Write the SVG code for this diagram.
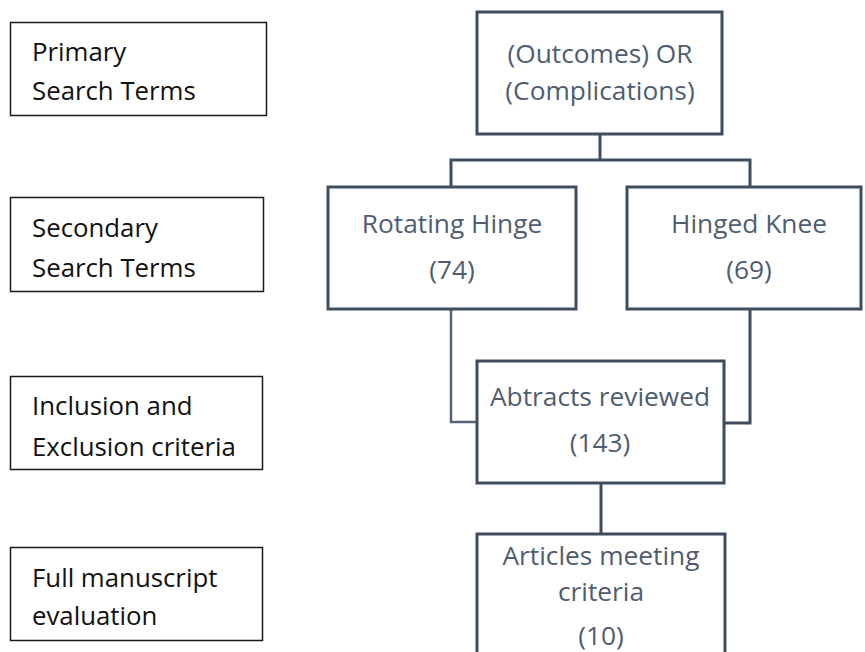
<svg xmlns="http://www.w3.org/2000/svg" width="865" height="652" viewBox="0 0 865 652">
<style>
.lbox{fill:#fff;stroke:#1a1a1a;stroke-width:1.5}
.ltxt{font-family:"Open Sans","Noto Sans",sans-serif;font-size:25.8px;fill:#111}
.rbox{fill:#fff;stroke:#3e4c5e;stroke-width:3}
.rtxt{font-family:"Open Sans","Noto Sans",sans-serif;font-size:26.3px;fill:#4f5d70;text-anchor:middle}
.conn{fill:none;stroke:#3e4c5e;stroke-width:3}
</style>
<rect width="865" height="652" fill="#fff"/>
<g id="connectors">
<polyline class="conn" points="600,134 600,160"/>
<polyline class="conn" points="451,187 451,160 750,160 750,187"/>
<polyline class="conn" points="451,310 451,422 477,422" style="stroke:#56627a;stroke-width:2.5"/>
<polyline class="conn" points="750,310 750,423 724,423"/>
<polyline class="conn" points="601,483 601,534"/>
</g>
<g id="primary">
<rect class="lbox" x="10.5" y="22.5" width="256" height="93"/>
<text class="ltxt" x="32" y="61">Primary</text>
<text class="ltxt" x="32" y="100">Search Terms</text>
</g>
<g id="secondary">
<rect class="lbox" x="10.5" y="197.5" width="253" height="94"/>
<text class="ltxt" x="32" y="237">Secondary</text>
<text class="ltxt" x="32" y="277">Search Terms</text>
</g>
<g id="inclusion">
<rect class="lbox" x="10.5" y="376.5" width="252" height="93"/>
<text class="ltxt" x="32" y="415">Inclusion and</text>
<text class="ltxt" x="32" y="456">Exclusion criteria</text>
</g>
<g id="fullmanuscript">
<rect class="lbox" x="10.5" y="547.5" width="252" height="93"/>
<text class="ltxt" x="32" y="587">Full manuscript</text>
<text class="ltxt" x="32" y="625">evaluation</text>
</g>
<g id="outcomes">
<rect class="rbox" x="477" y="12" width="245" height="122"/>
<text class="rtxt" x="600" y="63">(Outcomes) OR</text>
<text class="rtxt" x="600" y="99.5">(Complications)</text>
</g>
<g id="rotating">
<rect class="rbox" x="328" y="187" width="248" height="122"/>
<text class="rtxt" x="452" y="233">Rotating Hinge</text>
<text class="rtxt" x="452" y="279">(74)</text>
</g>
<g id="hinged">
<rect class="rbox" x="627" y="187" width="234" height="122"/>
<text class="rtxt" x="749" y="233">Hinged Knee</text>
<text class="rtxt" x="749" y="279">(69)</text>
</g>
<g id="abstracts">
<rect class="rbox" x="477" y="361" width="247" height="122"/>
<text class="rtxt" x="600" y="406">Abtracts reviewed</text>
<text class="rtxt" x="600" y="452">(143)</text>
</g>
<g id="articles">
<rect class="rbox" x="477" y="534" width="248" height="130"/>
<text class="rtxt" x="601" y="565">Articles meeting</text>
<text class="rtxt" x="601" y="601">criteria</text>
<text class="rtxt" x="601" y="645">(10)</text>
</g>
</svg>
